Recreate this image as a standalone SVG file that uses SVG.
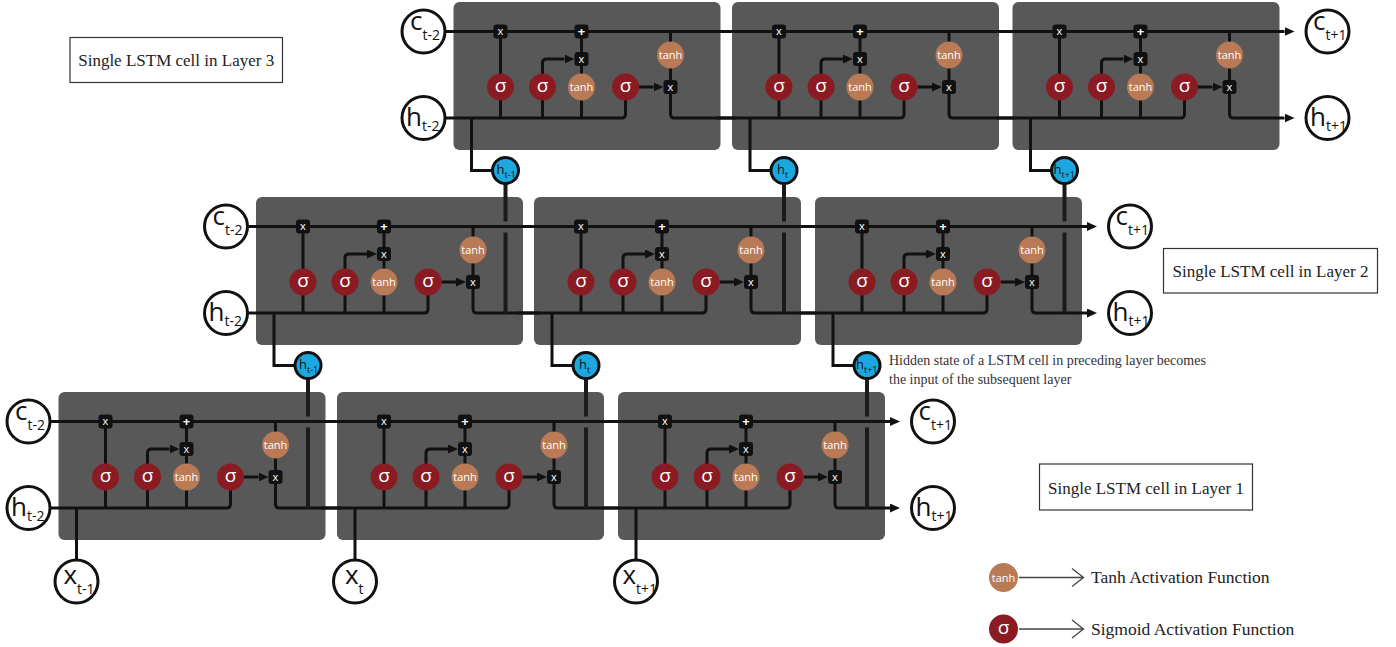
<svg xmlns="http://www.w3.org/2000/svg" width="1396" height="647" viewBox="0 0 1396 647">
<style>
.cell{fill:#585858}
.ln{fill:none;stroke:#111;stroke-width:3}
.bar{fill:none;stroke:#1b1b1b;stroke-width:4}
.gs{fill:#111}
.gt{fill:#fff;font:11px "Open Sans",sans-serif;text-anchor:middle}
.gp{fill:#fff;font:bold 13px "Open Sans",sans-serif;text-anchor:middle}
.sig{fill:#8a1b22}
.th{fill:#b97a55}
.st{fill:#fff;font:19px "Open Sans",sans-serif;text-anchor:middle}
.tt{fill:#fff;font:11px "Open Sans",sans-serif;text-anchor:middle}
.io{fill:#fff;stroke:#111;stroke-width:3}
.big{font:26px "Open Sans",sans-serif;fill:#111}
.sub{font-size:14px;fill:#111}
.blue{fill:#1ca7df;stroke:#111;stroke-width:3}
.bh{font:13px "Open Sans",sans-serif;fill:#111}
.bs{font-size:9px}
.lbl{font:17px "Liberation Serif",serif;fill:#222;text-anchor:middle}
.note{font:14px "Liberation Serif",serif;fill:#333}
.leg{font:17.5px "Liberation Serif",serif;fill:#222}
.box{fill:#fff;stroke:#333;stroke-width:1.2}
.lg{fill:none;stroke:#444;stroke-width:1.3}
</style>
<defs>
<marker id="ah" markerWidth="10" markerHeight="9" refX="0" refY="4.5" orient="auto" markerUnits="userSpaceOnUse"><path d="M0,0L10,4.5L0,9z" fill="#111"/></marker>
</defs>

<g id="cells">
<rect id="cell-L1-1" class="cell" x="58.5" y="392" width="267" height="148" rx="6"/>
<rect id="cell-L1-2" class="cell" x="337" y="392" width="267" height="148" rx="6"/>
<rect id="cell-L1-3" class="cell" x="618" y="392" width="267" height="148" rx="6"/>
<rect id="cell-L2-1" class="cell" x="256" y="197" width="267" height="148" rx="6"/>
<rect id="cell-L2-2" class="cell" x="534" y="197" width="267" height="148" rx="6"/>
<rect id="cell-L2-3" class="cell" x="815" y="197" width="267" height="148" rx="6"/>
<rect id="cell-L3-1" class="cell" x="453.5" y="2" width="267" height="148" rx="6"/>
<rect id="cell-L3-2" class="cell" x="732" y="2" width="267" height="148" rx="6"/>
<rect id="cell-L3-3" class="cell" x="1012.5" y="2" width="267" height="148" rx="6"/>
</g>

<g id="connectors">
<!-- Layer 1 -->
<g transform="translate(58.5,392)">
<path class="ln" d="M-16,29.5H267"/>
<path class="ln" d="M-16,116H168Q172,116 172,112V98"/>
<path class="ln" d="M47,116V29.5M128,116V29.5"/>
<path class="ln" d="M89,116V61Q89,57 93,57H111" marker-end="url(#ah)"/>
<path class="ln" d="M185.5,85H200" marker-end="url(#ah)"/>
<path class="ln" d="M217,29.5V112Q217,116 221,116H283"/>
<path class="ln" d="M18,116V168"/>
</g>
<g transform="translate(337,392)">
<path class="ln" d="M-16,29.5H267"/>
<path class="ln" d="M-16,116H168Q172,116 172,112V98"/>
<path class="ln" d="M47,116V29.5M128,116V29.5"/>
<path class="ln" d="M89,116V61Q89,57 93,57H111" marker-end="url(#ah)"/>
<path class="ln" d="M185.5,85H200" marker-end="url(#ah)"/>
<path class="ln" d="M217,29.5V112Q217,116 221,116H283"/>
<path class="ln" d="M18,116V168"/>
</g>
<g transform="translate(618,392)">
<path class="ln" d="M-16,29.5H272" marker-end="url(#ah)"/>
<path class="ln" d="M-16,116H168Q172,116 172,112V98"/>
<path class="ln" d="M47,116V29.5M128,116V29.5"/>
<path class="ln" d="M89,116V61Q89,57 93,57H111" marker-end="url(#ah)"/>
<path class="ln" d="M185.5,85H200" marker-end="url(#ah)"/>
<path class="ln" d="M217,29.5V112Q217,116 221,116H272" marker-end="url(#ah)"/>
<path class="ln" d="M18,116V168"/>
</g>
<!-- Layer 2 -->
<g transform="translate(256,197)">
<path class="ln" d="M-16,29.5H267"/>
<path class="ln" d="M-16,116H168Q172,116 172,112V98"/>
<path class="ln" d="M47,116V29.5M128,116V29.5"/>
<path class="ln" d="M89,116V61Q89,57 93,57H111" marker-end="url(#ah)"/>
<path class="ln" d="M185.5,85H200" marker-end="url(#ah)"/>
<path class="ln" d="M217,29.5V112Q217,116 221,116H283"/>
<path class="ln" d="M18,116V168.5H40"/>
<path class="bar" d="M52,181.5V219.5M52,230.5V311"/>
</g>
<g transform="translate(534,197)">
<path class="ln" d="M-16,29.5H267"/>
<path class="ln" d="M-16,116H168Q172,116 172,112V98"/>
<path class="ln" d="M47,116V29.5M128,116V29.5"/>
<path class="ln" d="M89,116V61Q89,57 93,57H111" marker-end="url(#ah)"/>
<path class="ln" d="M185.5,85H200" marker-end="url(#ah)"/>
<path class="ln" d="M217,29.5V112Q217,116 221,116H283"/>
<path class="ln" d="M18,116V168.5H40"/>
<path class="bar" d="M52,181.5V219.5M52,230.5V311"/>
</g>
<g transform="translate(815,197)">
<path class="ln" d="M-16,29.5H272" marker-end="url(#ah)"/>
<path class="ln" d="M-16,116H168Q172,116 172,112V98"/>
<path class="ln" d="M47,116V29.5M128,116V29.5"/>
<path class="ln" d="M89,116V61Q89,57 93,57H111" marker-end="url(#ah)"/>
<path class="ln" d="M185.5,85H200" marker-end="url(#ah)"/>
<path class="ln" d="M217,29.5V112Q217,116 221,116H272" marker-end="url(#ah)"/>
<path class="ln" d="M18,116V168.5H40"/>
<path class="bar" d="M52,181.5V219.5M52,230.5V311"/>
</g>
<!-- Layer 3 -->
<g transform="translate(453.5,2)">
<path class="ln" d="M-16,29.5H267"/>
<path class="ln" d="M-16,116H168Q172,116 172,112V98"/>
<path class="ln" d="M47,116V29.5M128,116V29.5"/>
<path class="ln" d="M89,116V61Q89,57 93,57H111" marker-end="url(#ah)"/>
<path class="ln" d="M185.5,85H200" marker-end="url(#ah)"/>
<path class="ln" d="M217,29.5V112Q217,116 221,116H283"/>
<path class="ln" d="M18,116V168.5H40"/>
<path class="bar" d="M52,181.5V219.5M52,230.5V311"/>
</g>
<g transform="translate(732,2)">
<path class="ln" d="M-16,29.5H267"/>
<path class="ln" d="M-16,116H168Q172,116 172,112V98"/>
<path class="ln" d="M47,116V29.5M128,116V29.5"/>
<path class="ln" d="M89,116V61Q89,57 93,57H111" marker-end="url(#ah)"/>
<path class="ln" d="M185.5,85H200" marker-end="url(#ah)"/>
<path class="ln" d="M217,29.5V112Q217,116 221,116H283"/>
<path class="ln" d="M18,116V168.5H40"/>
<path class="bar" d="M52,181.5V219.5M52,230.5V311"/>
</g>
<g transform="translate(1012.5,2)">
<path class="ln" d="M-16,29.5H272" marker-end="url(#ah)"/>
<path class="ln" d="M-16,116H168Q172,116 172,112V98"/>
<path class="ln" d="M47,116V29.5M128,116V29.5"/>
<path class="ln" d="M89,116V61Q89,57 93,57H111" marker-end="url(#ah)"/>
<path class="ln" d="M185.5,85H200" marker-end="url(#ah)"/>
<path class="ln" d="M217,29.5V112Q217,116 221,116H272" marker-end="url(#ah)"/>
<path class="ln" d="M18,116V168.5H40"/>
<path class="bar" d="M52,181.5V219.5M52,230.5V311"/>
</g>
</g>

<!-- gate nodes -->
<g id="gates-L1-1" transform="translate(58.5,392)">
<rect class="gs" x="40" y="22.5" width="14" height="14" rx="3"/><text class="gt" x="47" y="33">x</text>
<rect class="gs" x="121" y="22.5" width="14" height="14" rx="3"/><text class="gp" x="128" y="34">+</text>
<rect class="gs" x="121" y="50" width="14" height="14" rx="3"/><text class="gt" x="128" y="60.5">x</text>
<rect class="gs" x="210" y="78" width="14" height="14" rx="3"/><text class="gt" x="217" y="88.5">x</text>
<circle class="sig" cx="47" cy="85" r="13.5"/><text class="st" x="47" y="90">σ</text>
<circle class="sig" cx="89" cy="85" r="13.5"/><text class="st" x="89" y="90">σ</text>
<circle class="th" cx="128" cy="85" r="13.5"/><text class="tt" x="128" y="89">tanh</text>
<circle class="sig" cx="172" cy="85" r="13.5"/><text class="st" x="172" y="90">σ</text>
<circle class="th" cx="217" cy="53" r="13.5"/><text class="tt" x="217" y="57">tanh</text>
</g>
<g id="gates-L1-2" transform="translate(337,392)">
<rect class="gs" x="40" y="22.5" width="14" height="14" rx="3"/><text class="gt" x="47" y="33">x</text>
<rect class="gs" x="121" y="22.5" width="14" height="14" rx="3"/><text class="gp" x="128" y="34">+</text>
<rect class="gs" x="121" y="50" width="14" height="14" rx="3"/><text class="gt" x="128" y="60.5">x</text>
<rect class="gs" x="210" y="78" width="14" height="14" rx="3"/><text class="gt" x="217" y="88.5">x</text>
<circle class="sig" cx="47" cy="85" r="13.5"/><text class="st" x="47" y="90">σ</text>
<circle class="sig" cx="89" cy="85" r="13.5"/><text class="st" x="89" y="90">σ</text>
<circle class="th" cx="128" cy="85" r="13.5"/><text class="tt" x="128" y="89">tanh</text>
<circle class="sig" cx="172" cy="85" r="13.5"/><text class="st" x="172" y="90">σ</text>
<circle class="th" cx="217" cy="53" r="13.5"/><text class="tt" x="217" y="57">tanh</text>
</g>
<g id="gates-L1-3" transform="translate(618,392)">
<rect class="gs" x="40" y="22.5" width="14" height="14" rx="3"/><text class="gt" x="47" y="33">x</text>
<rect class="gs" x="121" y="22.5" width="14" height="14" rx="3"/><text class="gp" x="128" y="34">+</text>
<rect class="gs" x="121" y="50" width="14" height="14" rx="3"/><text class="gt" x="128" y="60.5">x</text>
<rect class="gs" x="210" y="78" width="14" height="14" rx="3"/><text class="gt" x="217" y="88.5">x</text>
<circle class="sig" cx="47" cy="85" r="13.5"/><text class="st" x="47" y="90">σ</text>
<circle class="sig" cx="89" cy="85" r="13.5"/><text class="st" x="89" y="90">σ</text>
<circle class="th" cx="128" cy="85" r="13.5"/><text class="tt" x="128" y="89">tanh</text>
<circle class="sig" cx="172" cy="85" r="13.5"/><text class="st" x="172" y="90">σ</text>
<circle class="th" cx="217" cy="53" r="13.5"/><text class="tt" x="217" y="57">tanh</text>
</g>
<g id="gates-L2-1" transform="translate(256,197)">
<rect class="gs" x="40" y="22.5" width="14" height="14" rx="3"/><text class="gt" x="47" y="33">x</text>
<rect class="gs" x="121" y="22.5" width="14" height="14" rx="3"/><text class="gp" x="128" y="34">+</text>
<rect class="gs" x="121" y="50" width="14" height="14" rx="3"/><text class="gt" x="128" y="60.5">x</text>
<rect class="gs" x="210" y="78" width="14" height="14" rx="3"/><text class="gt" x="217" y="88.5">x</text>
<circle class="sig" cx="47" cy="85" r="13.5"/><text class="st" x="47" y="90">σ</text>
<circle class="sig" cx="89" cy="85" r="13.5"/><text class="st" x="89" y="90">σ</text>
<circle class="th" cx="128" cy="85" r="13.5"/><text class="tt" x="128" y="89">tanh</text>
<circle class="sig" cx="172" cy="85" r="13.5"/><text class="st" x="172" y="90">σ</text>
<circle class="th" cx="217" cy="53" r="13.5"/><text class="tt" x="217" y="57">tanh</text>
</g>
<g id="gates-L2-2" transform="translate(534,197)">
<rect class="gs" x="40" y="22.5" width="14" height="14" rx="3"/><text class="gt" x="47" y="33">x</text>
<rect class="gs" x="121" y="22.5" width="14" height="14" rx="3"/><text class="gp" x="128" y="34">+</text>
<rect class="gs" x="121" y="50" width="14" height="14" rx="3"/><text class="gt" x="128" y="60.5">x</text>
<rect class="gs" x="210" y="78" width="14" height="14" rx="3"/><text class="gt" x="217" y="88.5">x</text>
<circle class="sig" cx="47" cy="85" r="13.5"/><text class="st" x="47" y="90">σ</text>
<circle class="sig" cx="89" cy="85" r="13.5"/><text class="st" x="89" y="90">σ</text>
<circle class="th" cx="128" cy="85" r="13.5"/><text class="tt" x="128" y="89">tanh</text>
<circle class="sig" cx="172" cy="85" r="13.5"/><text class="st" x="172" y="90">σ</text>
<circle class="th" cx="217" cy="53" r="13.5"/><text class="tt" x="217" y="57">tanh</text>
</g>
<g id="gates-L2-3" transform="translate(815,197)">
<rect class="gs" x="40" y="22.5" width="14" height="14" rx="3"/><text class="gt" x="47" y="33">x</text>
<rect class="gs" x="121" y="22.5" width="14" height="14" rx="3"/><text class="gp" x="128" y="34">+</text>
<rect class="gs" x="121" y="50" width="14" height="14" rx="3"/><text class="gt" x="128" y="60.5">x</text>
<rect class="gs" x="210" y="78" width="14" height="14" rx="3"/><text class="gt" x="217" y="88.5">x</text>
<circle class="sig" cx="47" cy="85" r="13.5"/><text class="st" x="47" y="90">σ</text>
<circle class="sig" cx="89" cy="85" r="13.5"/><text class="st" x="89" y="90">σ</text>
<circle class="th" cx="128" cy="85" r="13.5"/><text class="tt" x="128" y="89">tanh</text>
<circle class="sig" cx="172" cy="85" r="13.5"/><text class="st" x="172" y="90">σ</text>
<circle class="th" cx="217" cy="53" r="13.5"/><text class="tt" x="217" y="57">tanh</text>
</g>
<g id="gates-L3-1" transform="translate(453.5,2)">
<rect class="gs" x="40" y="22.5" width="14" height="14" rx="3"/><text class="gt" x="47" y="33">x</text>
<rect class="gs" x="121" y="22.5" width="14" height="14" rx="3"/><text class="gp" x="128" y="34">+</text>
<rect class="gs" x="121" y="50" width="14" height="14" rx="3"/><text class="gt" x="128" y="60.5">x</text>
<rect class="gs" x="210" y="78" width="14" height="14" rx="3"/><text class="gt" x="217" y="88.5">x</text>
<circle class="sig" cx="47" cy="85" r="13.5"/><text class="st" x="47" y="90">σ</text>
<circle class="sig" cx="89" cy="85" r="13.5"/><text class="st" x="89" y="90">σ</text>
<circle class="th" cx="128" cy="85" r="13.5"/><text class="tt" x="128" y="89">tanh</text>
<circle class="sig" cx="172" cy="85" r="13.5"/><text class="st" x="172" y="90">σ</text>
<circle class="th" cx="217" cy="53" r="13.5"/><text class="tt" x="217" y="57">tanh</text>
</g>
<g id="gates-L3-2" transform="translate(732,2)">
<rect class="gs" x="40" y="22.5" width="14" height="14" rx="3"/><text class="gt" x="47" y="33">x</text>
<rect class="gs" x="121" y="22.5" width="14" height="14" rx="3"/><text class="gp" x="128" y="34">+</text>
<rect class="gs" x="121" y="50" width="14" height="14" rx="3"/><text class="gt" x="128" y="60.5">x</text>
<rect class="gs" x="210" y="78" width="14" height="14" rx="3"/><text class="gt" x="217" y="88.5">x</text>
<circle class="sig" cx="47" cy="85" r="13.5"/><text class="st" x="47" y="90">σ</text>
<circle class="sig" cx="89" cy="85" r="13.5"/><text class="st" x="89" y="90">σ</text>
<circle class="th" cx="128" cy="85" r="13.5"/><text class="tt" x="128" y="89">tanh</text>
<circle class="sig" cx="172" cy="85" r="13.5"/><text class="st" x="172" y="90">σ</text>
<circle class="th" cx="217" cy="53" r="13.5"/><text class="tt" x="217" y="57">tanh</text>
</g>
<g id="gates-L3-3" transform="translate(1012.5,2)">
<rect class="gs" x="40" y="22.5" width="14" height="14" rx="3"/><text class="gt" x="47" y="33">x</text>
<rect class="gs" x="121" y="22.5" width="14" height="14" rx="3"/><text class="gp" x="128" y="34">+</text>
<rect class="gs" x="121" y="50" width="14" height="14" rx="3"/><text class="gt" x="128" y="60.5">x</text>
<rect class="gs" x="210" y="78" width="14" height="14" rx="3"/><text class="gt" x="217" y="88.5">x</text>
<circle class="sig" cx="47" cy="85" r="13.5"/><text class="st" x="47" y="90">σ</text>
<circle class="sig" cx="89" cy="85" r="13.5"/><text class="st" x="89" y="90">σ</text>
<circle class="th" cx="128" cy="85" r="13.5"/><text class="tt" x="128" y="89">tanh</text>
<circle class="sig" cx="172" cy="85" r="13.5"/><text class="st" x="172" y="90">σ</text>
<circle class="th" cx="217" cy="53" r="13.5"/><text class="tt" x="217" y="57">tanh</text>
</g>

<!-- state circles -->
<g id="L1-c-in"><circle class="io" cx="28.5" cy="421.5" r="21.5"/><text class="big" x="15" y="419.5">c<tspan class="sub" dy="10">t-2</tspan></text></g>
<g id="L1-h-in"><circle class="io" cx="28.5" cy="508" r="21.5"/><text class="big" x="11" y="516">h<tspan class="sub" dy="5">t-2</tspan></text></g>
<g id="L2-c-in"><circle class="io" cx="226" cy="226.5" r="21.5"/><text class="big" x="212.5" y="224.5">c<tspan class="sub" dy="10">t-2</tspan></text></g>
<g id="L2-h-in"><circle class="io" cx="226" cy="313" r="21.5"/><text class="big" x="208.5" y="321">h<tspan class="sub" dy="5">t-2</tspan></text></g>
<g id="L3-c-in"><circle class="io" cx="423.5" cy="31.5" r="21.5"/><text class="big" x="410" y="29.5">c<tspan class="sub" dy="10">t-2</tspan></text></g>
<g id="L3-h-in"><circle class="io" cx="423.5" cy="118" r="21.5"/><text class="big" x="406" y="126">h<tspan class="sub" dy="5">t-2</tspan></text></g>

<g id="L1-c-out"><circle class="io" cx="933" cy="421.5" r="21.5"/><text class="big" x="918.5" y="419.5">c<tspan class="sub" dy="10">t+1</tspan></text></g>
<g id="L1-h-out"><circle class="io" cx="933" cy="508" r="21.5"/><text class="big" x="915.5" y="516">h<tspan class="sub" dy="5">t+1</tspan></text></g>
<g id="L2-c-out"><circle class="io" cx="1130" cy="226.5" r="21.5"/><text class="big" x="1115.5" y="224.5">c<tspan class="sub" dy="10">t+1</tspan></text></g>
<g id="L2-h-out"><circle class="io" cx="1130" cy="313" r="21.5"/><text class="big" x="1112.5" y="321">h<tspan class="sub" dy="5">t+1</tspan></text></g>
<g id="L3-c-out"><circle class="io" cx="1327.5" cy="31.5" r="21.5"/><text class="big" x="1313" y="29.5">c<tspan class="sub" dy="10">t+1</tspan></text></g>
<g id="L3-h-out"><circle class="io" cx="1327.5" cy="118" r="21.5"/><text class="big" x="1310" y="126">h<tspan class="sub" dy="5">t+1</tspan></text></g>

<g id="x-t-1"><circle class="io" cx="76.5" cy="581.5" r="21.5"/><text class="big" x="63.5" y="583.5">x<tspan class="sub" dy="10">t-1</tspan></text></g>
<g id="x-t"><circle class="io" cx="355" cy="581.5" r="21.5"/><text class="big" x="345" y="583.5">x<tspan class="sub" dy="10">t</tspan></text></g>
<g id="x-t+1"><circle class="io" cx="636" cy="581.5" r="21.5"/><text class="big" x="622.5" y="583.5">x<tspan class="sub" dy="10">t+1</tspan></text></g>

<!-- hidden state hand-off circles -->
<g id="h32-1"><circle class="blue" cx="505.5" cy="170.5" r="13"/><text class="bh" x="496.5" y="173.5">h<tspan class="bs" dy="4">t-1</tspan></text></g>
<g id="h32-2"><circle class="blue" cx="784" cy="170.5" r="13"/><text class="bh" x="777" y="173.5">h<tspan class="bs" dy="4">t</tspan></text></g>
<g id="h32-3"><circle class="blue" cx="1064.5" cy="170.5" r="13"/><text class="bh" x="1053.5" y="173.5">h<tspan class="bs" dy="4">t+1</tspan></text></g>
<g id="h21-1"><circle class="blue" cx="308" cy="365.5" r="13"/><text class="bh" x="299" y="368.5">h<tspan class="bs" dy="4">t-1</tspan></text></g>
<g id="h21-2"><circle class="blue" cx="586" cy="365.5" r="13"/><text class="bh" x="579" y="368.5">h<tspan class="bs" dy="4">t</tspan></text></g>
<g id="h21-3"><circle class="blue" cx="867" cy="365.5" r="13"/><text class="bh" x="856" y="368.5">h<tspan class="bs" dy="4">t+1</tspan></text></g>

<!-- labels -->
<g id="label-L3"><rect class="box" x="70" y="37.5" width="212.5" height="45"/><text class="lbl" x="176.2" y="66">Single LSTM cell in Layer 3</text></g>
<g id="label-L2"><rect class="box" x="1163.5" y="248.5" width="214" height="44.5"/><text class="lbl" x="1270.5" y="276.5">Single LSTM cell in Layer 2</text></g>
<g id="label-L1"><rect class="box" x="1039.5" y="464" width="213" height="46"/><text class="lbl" x="1146" y="493.5">Single LSTM cell in Layer 1</text></g>

<g id="note"><text class="note" x="889" y="365">Hidden state of a LSTM cell in preceding layer becomes</text><text class="note" x="889" y="383.5">the input of the subsequent layer</text></g>

<g id="legend-tanh"><circle class="th" cx="1003.5" cy="577.5" r="14.5"/><text class="tt" x="1003.5" y="581.5">tanh</text><path class="lg" d="M1019,577.5H1083M1072,568.5L1083.5,577.5L1072,586.5"/><text class="leg" x="1091" y="583">Tanh Activation Function</text></g>
<g id="legend-sigmoid"><circle class="sig" cx="1003.5" cy="629" r="14.5"/><text class="st" x="1003.5" y="634">σ</text><path class="lg" d="M1019,629H1083M1072,620L1083.5,629L1072,638"/><text class="leg" x="1091" y="634.5">Sigmoid Activation Function</text></g>
</svg>
